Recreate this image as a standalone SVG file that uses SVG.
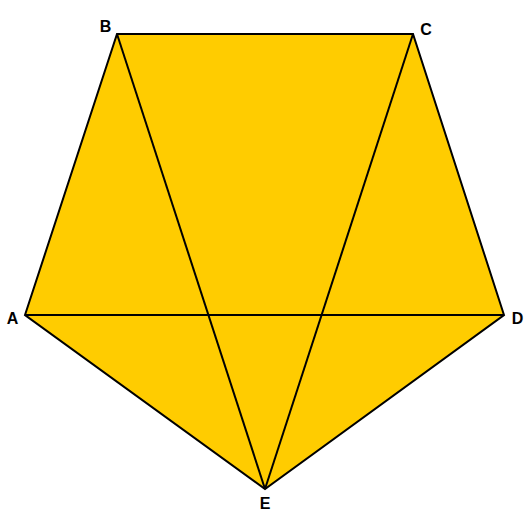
<svg xmlns="http://www.w3.org/2000/svg" width="530" height="530" viewBox="0 0 530 530">
<style>
.lbl{font-family:"Liberation Sans",Arial,sans-serif;font-weight:bold;font-size:16px;fill:#000;text-anchor:middle}
.edge{stroke:#000;stroke-width:2;fill:none;stroke-linejoin:miter}
</style>
<rect width="530" height="530" fill="#fff"/>
<g id="pentagon">
<polygon points="25,315 117,34 413,34 504,315 265,489" fill="#FFCC00" stroke="#000" stroke-width="2"/>
</g>
<g id="connectors">
<line class="edge" x1="25" y1="315" x2="504" y2="315"/>
<line class="edge" x1="117" y1="34" x2="265" y2="489"/>
<line class="edge" x1="413" y1="34" x2="265" y2="489"/>
</g>
<g id="A"><text class="lbl" x="12.5" y="323.5">A</text></g>
<g id="B"><text class="lbl" x="105.5" y="31.5">B</text></g>
<g id="C"><text class="lbl" x="426" y="34.5">C</text></g>
<g id="D"><text class="lbl" x="517.5" y="323.5">D</text></g>
<g id="E"><text class="lbl" x="265" y="508.5">E</text></g>
</svg>
